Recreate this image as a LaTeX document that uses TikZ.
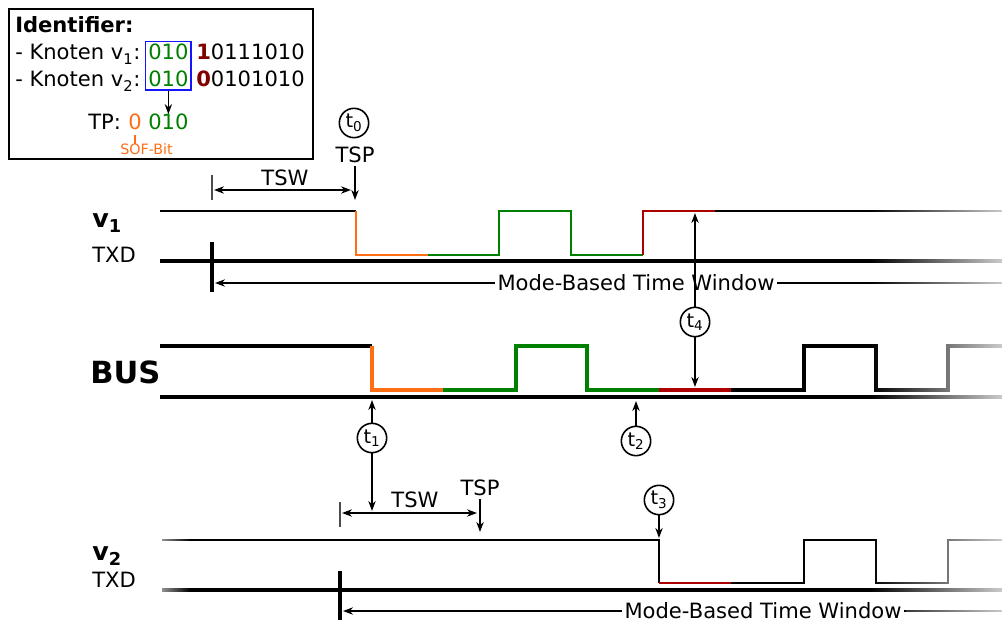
\documentclass[tikz,border=0pt]{standalone}
\usepackage{fontspec}
\setmainfont{DejaVu Sans}
\usetikzlibrary{arrows.meta,positioning,fit,fadings}

\definecolor{bitgreen}{RGB}{0,128,0}
\definecolor{soforange}{RGB}{255,110,20}
\definecolor{bitred}{RGB}{128,0,0}
\definecolor{arbred}{RGB}{175,0,0}
\definecolor{boxblue}{RGB}{20,20,255}

\tikzfading[name=faderight, left color=transparent!100, right color=transparent!20]
\tikzfading[name=fadeleft, left color=transparent!35, right color=transparent!100]

\newcommand{\bodyfont}{\fontsize{15.8}{19}\selectfont}

\tikzset{
  txt/.style={font=\bodyfont, inner sep=0pt},
  sig/.style={line width=1.5pt},
  busline/.style={line width=3pt},
  baseline/.style={line width=2.4pt},
  wintick/.style={line width=2.4pt},
  tswtick/.style={line width=1.1pt, black!70},
  ptr/.style={line width=1.2pt, -{Stealth[length=7.5pt,width=5.5pt]}},
  dimarrow/.style={line width=1.2pt, {Stealth[length=7.5pt,width=5.5pt]}-{Stealth[length=7.5pt,width=5.5pt]}},
  tcirc/.style={draw, circle, line width=1.2pt, minimum size=22pt, inner sep=0pt,
    font=\fontsize{14.5}{15}\selectfont},
}

\begin{document}
\begin{tikzpicture}[x=0.75pt, y=-0.75pt]
  \useasboundingbox (0,0) rectangle (1002,623);

  % identifier box
  \draw[line width=1.5pt] (9,9) rectangle (313,159);
  \node[txt, anchor=base west, font=\bodyfont\bfseries] (ident) at (15,33) {Identifier:};
  \node[txt, anchor=base west] (kn1) at (15,60) {- Knoten v\textsubscript{1}:};
  \node[txt, anchor=base west, text=bitgreen] (id1) at (148,60) {010};
  \node[txt, anchor=base west] (rest1) at (196,60) {\textcolor{bitred}{\textbf{1}}0111010};
  \node[txt, anchor=base west] (kn2) at (15,87) {- Knoten v\textsubscript{2}:};
  \node[txt, anchor=base west, text=bitgreen] (id2) at (148,87) {010};
  \node[txt, anchor=base west] (rest2) at (196,87) {\textcolor{bitred}{\textbf{0}}0101010};
  \node[draw=boxblue, line width=1.1pt, fit=(id1)(id2), inner sep=1.8pt] (idbox) {};
  % TP line
  \node[txt, anchor=base west, text=bitgreen] (tpbits) at (148,130) {010};
  \node[txt, anchor=base west, text=soforange] (sof) at (128,130) {0};
  \node[txt, anchor=base west] (tp) at (88,130) {TP:};
  \node[anchor=base west, inner sep=0pt, text=soforange, font=\fontsize{10.7}{12}\selectfont] (soflbl) at (120,155) {SOF-Bit};
  \draw[ptr] (idbox.south) -- (tpbits.north);
  \draw[soforange, line width=0.8pt] ([yshift=-3pt]sof.south) -- (sof.south |- soflbl.north);

  % row labels
  \node[anchor=base west, inner sep=0pt, font=\fontsize{19}{22}\selectfont\bfseries] (v1lbl) at (92,228) {v\textsubscript{1}};
  \node[txt, anchor=base west] (txd1) at (92,263) {TXD};
  \node[anchor=base west, inner sep=0pt, font=\fontsize{22.9}{26}\selectfont\bfseries] (buslbl) at (90,383) {BUS};
  \node[anchor=base west, inner sep=0pt, font=\fontsize{19}{22}\selectfont\bfseries] (v2lbl) at (92,560) {v\textsubscript{2}};
  \node[txt, anchor=base west] (txd2) at (92,587) {TXD};

  % v1 TXD
  \draw[sig] (160,211) -- (356,211);
  \draw[sig, soforange] (356,211) -- (356,255) -- (428,255);
  \draw[sig, bitgreen] (428,255) -- (499,255) -- (499,211) -- (571,211) -- (571,255) -- (643,255);
  \draw[sig, arbred] (643,255) -- (643,211) -- (715,211);
  \draw[sig] (715,211) -- (1002,211);
  \draw[baseline] (160,261) -- (1002,261);
  \draw[wintick] (212,242) -- (212,292);
  \draw[tswtick] (212,175) -- (212,200);

  % BUS
  \draw[busline] (160,346) -- (372,346);
  \draw[busline, soforange] (372,346) -- (372,390) -- (443,390);
  \draw[busline, bitgreen] (443,390) -- (516,390) -- (516,346) -- (587,346) -- (587,390) -- (659,390);
  \draw[busline, arbred] (659,390) -- (731,390);
  \draw[busline] (731,390) -- (804,390) -- (804,346) -- (876,346) -- (876,390) -- (948,390) -- (948,346) -- (1002,346);
  \draw[baseline] (160,397) -- (1002,397);

  % v2 TXD
  \draw[sig] (162,540) -- (659,540) -- (659,583);
  \draw[sig, arbred] (659,583) -- (731,583);
  \draw[sig] (731,583) -- (804,583) -- (804,540) -- (876,540) -- (876,583) -- (948,583) -- (948,540) -- (1002,540);
  \draw[baseline] (162,590) -- (1002,590);
  \draw[wintick] (340,571) -- (340,620);
  \draw[tswtick] (340,502) -- (340,527);

  % v1 time window and TSW
  \node[txt, inner sep=2pt] (mbw1) at (636,283) {Mode-Based Time Window};
  \coordinate (mbw1end) at (215,283);
  \draw[ptr] (mbw1.west) -- (mbw1end);
  \draw[line width=1.2pt] (mbw1.east) -- (1002,283);
  \node[txt] (tsw1) at (285,178) {TSW};
  \coordinate (tsw1l) at (214,190);
  \coordinate (tsw1r) at (351,190);
  \draw[dimarrow] (tsw1l) -- (tsw1r);
  \node[tcirc] (t0) at (354,123) {t\textsubscript{0}};
  \node[txt, inner sep=2pt] (tsp1) at (355,155) {TSP};
  \coordinate (tsp1end) at (355,200);
  \draw[ptr] (tsp1.south) -- (tsp1end);

  % v2 time window and TSW
  \node[txt, inner sep=2pt] (mbw2) at (763,611) {Mode-Based Time Window};
  \coordinate (mbw2end) at (343,611);
  \draw[ptr] (mbw2.west) -- (mbw2end);
  \draw[line width=1.2pt] (mbw2.east) -- (1002,611);
  \node[txt] (tsw2) at (415,500) {TSW};
  \coordinate (tsw2l) at (342,513);
  \coordinate (tsw2r) at (477,513);
  \draw[dimarrow] (tsw2l) -- (tsw2r);
  \node[txt, inner sep=2pt] (tsp2) at (480,488) {TSP};
  \coordinate (tsp2end) at (480,532);
  \draw[ptr] (tsp2.south) -- (tsp2end);

  % time points
  \node[tcirc, fill=white] (t4) at (695,322) {t\textsubscript{4}};
  \coordinate (t4top) at (695,213);
  \coordinate (t4bot) at (695,387);
  \draw[ptr] (t4.north) -- (t4top);
  \draw[ptr] (t4.south) -- (t4bot);
  \node[tcirc] (t1) at (372,438) {t\textsubscript{1}};
  \coordinate (t1top) at (372,400);
  \coordinate (t1bot) at (372,511);
  \draw[ptr] (t1.north) -- (t1top);
  \draw[ptr] (t1.south) -- (t1bot);
  \node[tcirc] (t2) at (636,441) {t\textsubscript{2}};
  \coordinate (t2top) at (636,401);
  \draw[ptr] (t2.north) -- (t2top);
  \node[tcirc] (t3) at (659,500) {t\textsubscript{3}};
  \coordinate (t3bot) at (659,538);
  \draw[ptr] (t3.south) -- (t3bot);

  % fade the lines out to the right (and v2 in on the left)
  \fill[white, path fading=faderight] (870,190) rectangle (1003,598);
  \begin{scope}
    \clip (906,600) rectangle (1003,620);
    \fill[white, path fading=faderight] (870,600) rectangle (1003,620);
  \end{scope}
  \fill[white, path fading=fadeleft] (158,530) rectangle (190,598);
\end{tikzpicture}
\end{document}
